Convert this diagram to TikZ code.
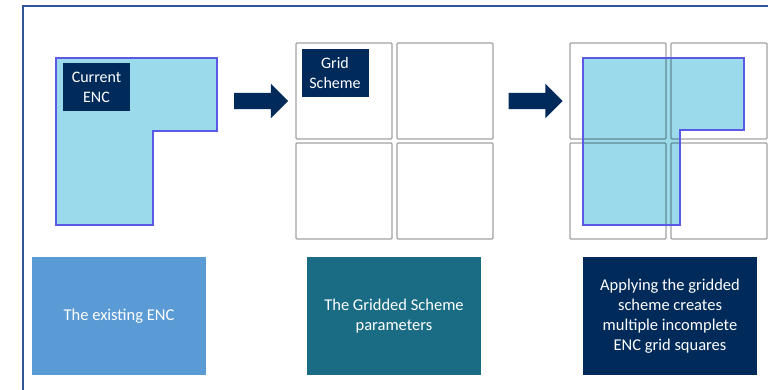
\documentclass[tikz,border=0pt]{standalone}
\usepackage{fontspec}
\setmainfont{Carlito}
\usepackage{tikz}
\usetikzlibrary{shapes.arrows}
\definecolor{navy}{HTML}{002A5A}
\definecolor{framecol}{HTML}{2F5597}
\definecolor{encfill}{HTML}{9ADAEA}
\definecolor{encline}{HTML}{5A5AE6}
\definecolor{boxblue}{HTML}{5B9BD5}
\definecolor{boxteal}{HTML}{1A6C84}

\tikzset{
  encshape/.style={fill=encfill, draw=encline, line width=1.2pt},
  gridsq/.style={draw=black, draw opacity=0.37, line width=1.2pt, rounded corners=1pt},
  labelbox/.style={fill=navy, text=white, align=center, minimum width=67pt, minimum height=48pt, inner sep=0pt, font=\fontsize{16}{20}\selectfont},
  blockarrow/.style={single arrow, fill=navy, inner sep=8pt, minimum width=34pt, minimum height=54pt, single arrow head extend=9pt},
  captionbox/.style={minimum width=174pt, minimum height=118pt, inner sep=0pt, text=white, align=center, font=\fontsize{16.5}{20}\selectfont}
}

\begin{document}
\begin{tikzpicture}[x=1pt,y=-1pt]
\useasboundingbox (0,0) rectangle (768,389);
%\draw [help lines, step=50] (0,0) grid (768,389);
\draw [framecol, line width=1.5pt] (23,395) -- (23,6) -- (775,6);
% the existing ENC
\draw [encshape] (56,58) -- (217,58) -- (217,131) -- (153,131) -- (153,225) -- (56,225) -- cycle;
\node [labelbox] (cur) at (96.5,87) {Current\\ENC};
\node [blockarrow] (arrA) at (257,101) {};
% gridded scheme
\foreach \x in {296,397}
  \foreach \y in {43,143}
    \draw [gridsq] (\x,\y) rectangle ++(96,96);
\node [labelbox] (grid) at (335,72.5) {Grid\\Scheme};
\node [blockarrow] (arrB) at (531.5,101) {};
% scheme applied
\fill [encfill] (583,58) -- (744,58) -- (744,130) -- (680,130) -- (680,225) -- (583,225) -- cycle;
\foreach \x in {570,671}
  \foreach \y in {43,143}
    \draw [gridsq] (\x,\y) rectangle ++(96,96);
\draw [encline, line width=1.2pt] (583,58) -- (744,58) -- (744,130) -- (680,130) -- (680,225) -- (583,225) -- cycle;
% captions
\node [captionbox, fill=boxblue] (capA) at (119,316) {The existing ENC};
\node [captionbox, fill=boxteal] (capB) at (394,316) {The Gridded Scheme\\parameters};
\node [captionbox, fill=navy] (capC) at (670,316) {Applying the gridded\\scheme creates\\multiple incomplete\\ENC grid squares};
\end{tikzpicture}
\end{document}
